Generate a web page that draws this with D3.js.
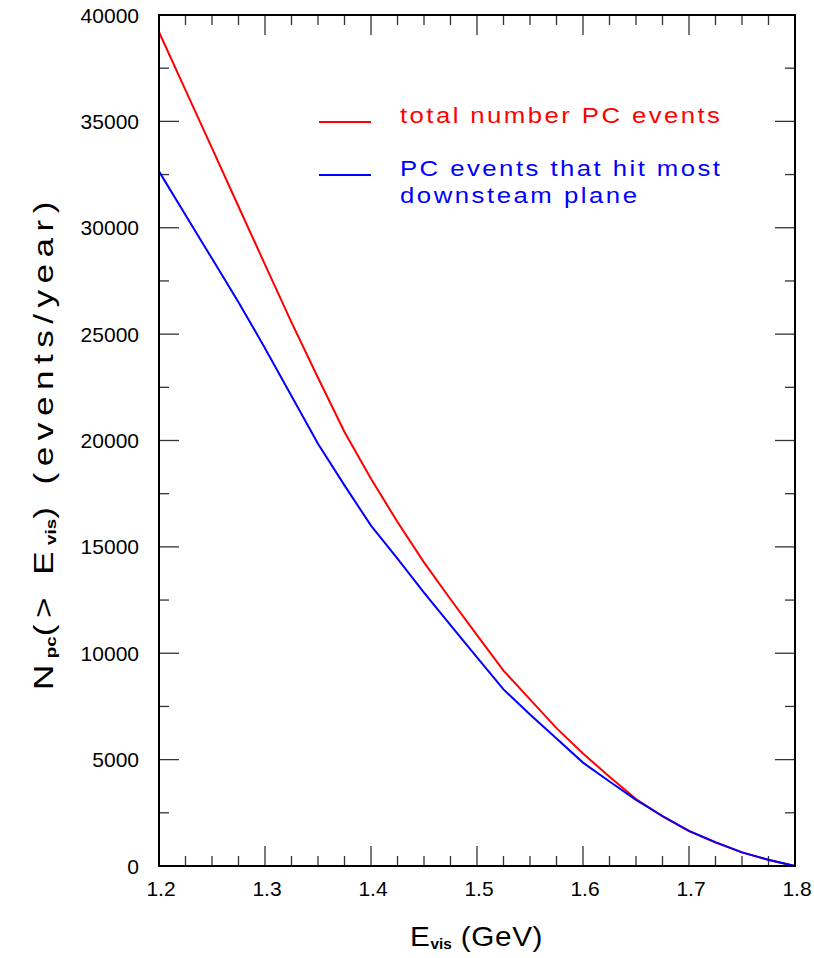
<!DOCTYPE html>
<html>
<head>
<meta charset="utf-8">
<script src="https://cdn.jsdelivr.net/npm/d3@7"></script>
<style>
  html, body { margin: 0; padding: 0; background: #fff; }
  svg { display: block; }
  text { font-family: "Liberation Sans", Arial, sans-serif; }
</style>
</head>
<body>
<svg id="chart" width="814" height="958"></svg>
<script>
// ---- data ----
const energy = [1.2, 1.225, 1.25, 1.275, 1.3, 1.325, 1.35, 1.375, 1.4, 1.425, 1.45, 1.475, 1.5,
                1.525, 1.55, 1.575, 1.6, 1.625, 1.65, 1.675, 1.7, 1.725, 1.75, 1.775, 1.8];
const totalPC = [39200, 36470, 33740, 31000, 28270, 25550, 22950, 20400, 18200, 16170, 14270, 12540, 10850,
                 9180, 7830, 6480, 5290, 4190, 3150, 2330, 1640, 1100, 640, 280, 0];
const downstreamPC = [32650, 30600, 28550, 26500, 24340, 22090, 19850, 17890, 16000, 14450, 12850, 11320, 9810,
                      8300, 7120, 5990, 4860, 3970, 3110, 2350, 1650, 1120, 640, 290, 0];
const xTickLabels = ["1.2", "1.3", "1.4", "1.5", "1.6", "1.7", "1.8"];
const yTickLabels = ["0", "5000", "10000", "15000", "20000", "25000", "30000", "35000", "40000"];
const legendLabels = [["total number PC events"], ["PC events that hit most", "downsteam plane"]];
const seriesColors = ["#ff0000", "#0000ff"];

// ---- layout ----
const L = 159, R = 795, T = 15, B = 866;
const svg = d3.select("#chart");
const x = d3.scaleLinear().domain([1.2, 1.8]).range([L, R]);
const y = d3.scaleLinear().domain([0, 40000]).range([B, T]);

const majorX = xTickLabels.map(Number);
const minorX = d3.range(0, 25).map(i => 1.2 + i * 0.025).filter(v => Math.abs(Math.round(v * 10) - v * 10) > 1e-6);
const majorY = yTickLabels.map(Number);
const minorY = d3.range(0, 16).map(i => 2500 + i * 5000).filter(v => v < 40000);

const tickColor = "#333";
const g = svg.append("g");

// ticks (inward on all four sides)
function vTicks(vals, len, yBase, dir) {
  g.selectAll(null).data(vals).enter().append("line")
    .attr("x1", d => x(d)).attr("x2", d => x(d))
    .attr("y1", yBase).attr("y2", yBase + dir * len)
    .attr("stroke", tickColor).attr("stroke-width", 1.3);
}
function hTicks(vals, len, xBase, dir) {
  g.selectAll(null).data(vals).enter().append("line")
    .attr("y1", d => y(d)).attr("y2", d => y(d))
    .attr("x1", xBase).attr("x2", xBase + dir * len)
    .attr("stroke", tickColor).attr("stroke-width", 1.3);
}
vTicks(majorX, 20, B, -1); vTicks(minorX, 10, B, -1);
vTicks(majorX, 20, T, 1);  vTicks(minorX, 10, T, 1);
hTicks(majorY, 20, L, 1);  hTicks(minorY, 10, L, 1);
hTicks(majorY, 20, R, -1); hTicks(minorY, 10, R, -1);

// curves
const line = d3.line().x(d => x(d[0])).y(d => y(d[1]));
[totalPC, downstreamPC].forEach((s, i) => {
  svg.append("path")
    .datum(energy.map((e, k) => [e, s[k]]))
    .attr("d", line)
    .attr("fill", "none")
    .attr("stroke", seriesColors[i])
    .attr("stroke-width", 2);
});

// frame
svg.append("rect").attr("x", L).attr("y", T).attr("width", R - L).attr("height", B - T)
  .attr("fill", "none").attr("stroke", "#000").attr("stroke-width", 2);

// tick labels
svg.selectAll(null).data(xTickLabels).enter().append("text")
  .attr("x", d => x(+d) + 2).attr("y", 896)
  .attr("text-anchor", "middle").attr("font-size", 21).text(d => d);
svg.selectAll(null).data(yTickLabels).enter().append("text")
  .attr("x", 139).attr("y", d => y(+d)).attr("dy", "0.36em")
  .attr("text-anchor", "end").attr("font-size", 21).text(d => d);

// helper: spread main (non-subscript) parts with letter-spacing to reach a target length
function spreadTitle(textSel, parts, fontSize, subSize, target) {
  const spans = parts.map(p => {
    const t = textSel.append("tspan").text(p.t);
    if (p.sub) t.attr("font-size", subSize).attr("font-weight", "bold").attr("dy", 3);
    else t.attr("font-size", fontSize);
    if (p.up) t.attr("dy", -3);
    return t;
  });
  const natural = textSel.node().getComputedTextLength();
  const mainChars = parts.filter(p => !p.sub).reduce((a, p) => a + p.t.length, 0);
  const ls = (target - natural) / mainChars;
  spans.forEach((s, i) => { if (!parts[i].sub) s.attr("letter-spacing", ls); });
}

// x axis title
const xt = svg.append("text").attr("transform", "translate(410,946) scale(1.1,1)");
spreadTitle(xt, [{t: "E"}, {t: "vis", sub: true}, {t: " (GeV)", up: true}], 27, 14, 121);

// y axis title
const yt = svg.append("text").attr("transform", "translate(53,690) rotate(-90) scale(1.25,1)");
spreadTitle(yt, [{t: "N"}, {t: "pc", sub: true}, {t: "(> E", up: true}, {t: "vis", sub: true},
                 {t: ") (events/year)", up: true}], 28, 15, 396);

// legend
const legY = [122, 175];
const legScale = 1.12;
const legWidths = [[320], [320, 237]];
legendLabels.forEach((lines, i) => {
  svg.append("line").attr("x1", 319).attr("x2", 371).attr("y1", legY[i]).attr("y2", legY[i])
    .attr("stroke", seriesColors[i]).attr("stroke-width", 2);
  lines.forEach((t, j) => {
    svg.append("text")
      .attr("transform", `translate(400,${legY[i] + j * 27 + 1}) scale(${legScale},1)`)
      .attr("font-size", 23).attr("fill", seriesColors[i])
      .attr("font-family", "'DejaVu Sans', sans-serif")
      .attr("textLength", legWidths[i][j] / legScale).attr("lengthAdjust", "spacing")
      .text(t);
  });
});
</script>
</body>
</html>
